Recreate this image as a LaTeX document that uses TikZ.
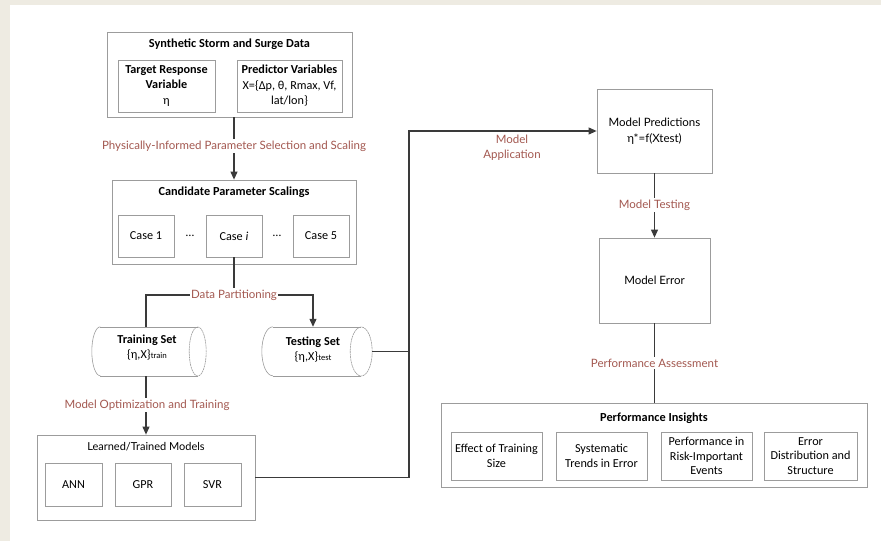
\documentclass[tikz,border=0pt]{standalone}
\usepackage{fontspec}
\setmainfont{Carlito}
\newfontfamily\latofont{Lato}
\usetikzlibrary{arrows.meta}
\definecolor{framebg}{HTML}{EEEBE2}
\definecolor{boxline}{HTML}{9C9C9C}
\definecolor{wire}{HTML}{3A3A3A}
\definecolor{steplabel}{HTML}{A35850}
% horizontal data-store drum drawn around a named rectangular node:
% #1 node name, #2 radius of the end ellipses (pt), #3 half height (pt)
\newcommand\drumoutline[3]{%
  \draw[drumline] ([xshift=#2pt]#1.north west) -- ([xshift=-#2pt]#1.north east);
  \draw[drumline] ([xshift=#2pt]#1.south west) -- ([xshift=-#2pt]#1.south east);
  \draw[drumline] ([xshift=#2pt]#1.north west) arc[start angle=90, end angle=270, x radius=#2pt, y radius=#3pt];
  \draw[drumline, dash pattern=on 2pt off 0.6pt] ([xshift=-#2pt]#1.east) ellipse[x radius=#2pt, y radius=#3pt];
}
\begin{document}
\begin{tikzpicture}[x=1pt,y=-1pt,
  outerbox/.style={draw=boxline, line width=0.8pt, inner sep=0pt},
  innerbox/.style={draw=boxline, line width=0.7pt, inner sep=0pt, align=center,
    font=\fontsize{12.2}{14.8}\selectfont},
  plainbox/.style={draw=boxline, line width=0.8pt, inner sep=0pt, align=center,
    font=\latofont\fontsize{11.5}{16}\selectfont},
  boxtitle/.style={inner sep=0pt, font=\bfseries\fontsize{12.3}{14}\selectfont},
  steptext/.style={inner sep=1.5pt, fill=white, text=steplabel, align=center,
    font=\latofont\fontsize{11.5}{15}\selectfont},
  drumbody/.style={inner sep=0pt},
  drumtext/.style={inner sep=0pt, align=center, font=\fontsize{12.2}{15}\selectfont},
  drumline/.style={draw=boxline, line width=0.6pt},
  wireline/.style={draw=wire, line width=1.1pt},
  wirearrow/.style={wireline, -{Triangle[length=8pt,width=7pt]}}
]
% page and frame
\fill[white] (0,0) rectangle (881,541);
\fill[framebg] (0,0) rectangle (881,4.5);
\fill[framebg] (0,0) rectangle (9.5,541);
\useasboundingbox (0,0) rectangle (881,541);

% synthetic data block
\node[outerbox, minimum width=245pt, minimum height=85pt] (data) at (229.5,74.5) {};
\node[boxtitle] (dataT) at (229.5,44) {Synthetic Storm and Surge Data};
\node[innerbox, minimum width=97pt, minimum height=52pt, font=\fontsize{12.2}{15.5}\selectfont] (target) at (166.5,86)
  {\textbf{Target Response}\\\textbf{Variable}\\η};
\node[innerbox, minimum width=105pt, minimum height=52pt, font=\fontsize{12.2}{15.5}\selectfont] (pred) at (289.5,86)
  {\textbf{Predictor Variables}\\X=\{Δp, θ, Rmax, Vf,\\lat/lon\}};

% candidate scalings block
\node[outerbox, minimum width=244pt, minimum height=84pt] (cand) at (234,222) {};
\node[boxtitle] (candT) at (234,192) {Candidate Parameter Scalings};
\node[innerbox, minimum width=56pt, minimum height=42pt] (case1) at (146,236) {Case 1};
\node[innerbox, minimum width=56pt, minimum height=42pt] (casei) at (234,236) {Case \textit{i}};
\node[innerbox, minimum width=56pt, minimum height=42pt] (case5) at (321,236) {Case 5};
\node[inner sep=0pt, font=\fontsize{12}{13}\selectfont] (dots1) at (190,236) {\dots};
\node[inner sep=0pt, font=\fontsize{12}{13}\selectfont] (dots2) at (277,236) {\dots};

% data sets
\node[drumbody, minimum width=114pt, minimum height=49pt] (train) at (149,351.5) {};
\drumoutline{train}{8.5}{24.5}
\node[drumtext] (trainT) at (147,348)
  {\textbf{Training Set}\\\{η,X\}{\fontsize{8.5}{9}\selectfont train}};
\node[drumbody, minimum width=110pt, minimum height=49pt] (test) at (317,351.5) {};
\drumoutline{test}{11}{24.5}
\node[drumtext] (testT) at (313,350)
  {\textbf{Testing Set}\\\{η,X\}{\fontsize{8.5}{9}\selectfont test}};

% trained models block
\node[outerbox, minimum width=218pt, minimum height=85pt] (models) at (146,477.5) {};
\node[inner sep=0pt, font=\latofont\fontsize{11}{13}\selectfont] (modelsT) at (146,447) {Learned/Trained Models};
\node[innerbox, minimum width=57pt, minimum height=43pt] (ann) at (73.5,484.5) {ANN};
\node[innerbox, minimum width=56pt, minimum height=43pt] (gpr) at (143,484.5) {GPR};
\node[innerbox, minimum width=57pt, minimum height=43pt] (svr) at (212.5,484.5) {SVR};

% prediction and error
\node[plainbox, minimum width=115pt, minimum height=84pt] (predict) at (654.5,131)
  {Model Predictions\\η*=f(Xtest)};
\node[plainbox, minimum width=111pt, minimum height=85pt] (error) at (654.5,280.5)
  {Model Error};

% performance insights block
\node[outerbox, minimum width=426pt, minimum height=84pt] (ins) at (654,445) {};
\node[boxtitle] (insT) at (654,418) {Performance Insights};
\node[innerbox, minimum width=91pt, minimum height=48pt] (ins1) at (496.5,456)
  {Effect of Training\\Size};
\node[innerbox, minimum width=91pt, minimum height=48pt] (ins2) at (601.5,456)
  {Systematic\\Trends in Error};
\node[innerbox, minimum width=91pt, minimum height=48pt] (ins3) at (706.5,456)
  {Performance in\\Risk-Important\\Events};
\node[innerbox, minimum width=93pt, minimum height=48pt] (ins4) at (810.5,456)
  {Error\\Distribution and\\Structure};

% connectors
\coordinate (split) at (234,295);
\coordinate (bus) at (409,131);

\draw[wirearrow] (data.south -| casei) -- (cand.north -| casei);
\node[steptext] (lblScale) at (234,146) {Physically-Informed Parameter Selection and Scaling};

\draw[wireline] (casei.south) -- (split);
\draw[wireline] (split) -| (train.north -| models);
\draw[wirearrow] (split) -| (testT.north |- test.north);
\node[steptext] (lblSplit) at (split) {Data Partitioning};

\draw[wirearrow] (train.south -| models) -- (models.north);
\node[steptext] (lblTrain) at (147,405) {Model Optimization and Training};

\draw[wireline] (test.east) -- (test.east -| bus);
\draw[wirearrow] (models.east) -| (bus) -- (predict.west);
\node[steptext, fill=none] (lblApply) at (512,147.5) {Model\\Application};

\draw[wirearrow] (predict.south) -- (error.north);
\node[steptext] (lblTest) at (654.5,205) {Model Testing};

\draw[wireline] (error.south) -- (ins.north -| error);
\node[steptext] (lblPerf) at (654.5,363) {Performance Assessment};
\end{tikzpicture}
\end{document}
